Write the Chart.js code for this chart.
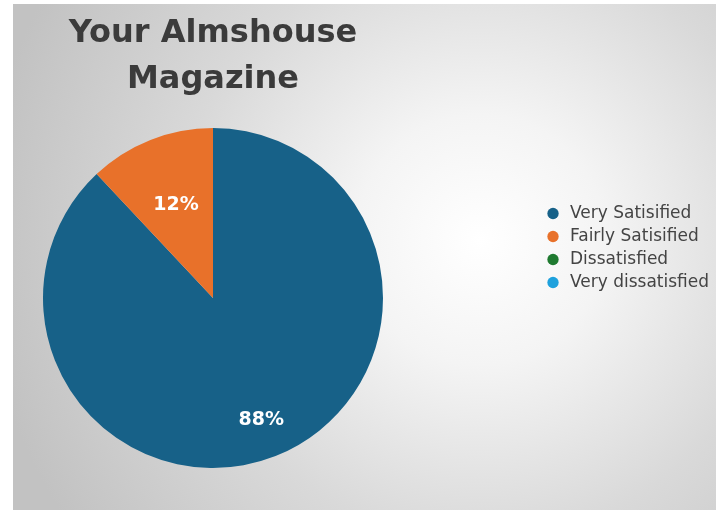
<!DOCTYPE html>
<html lang="en">
<head>
    <meta charset="UTF-8">
    <meta name="viewport" content="width=device-width, initial-scale=1.0">
    <title>Your Almshouse Magazine</title>
    <style>
        html, body {
            margin: 0;
            padding: 0;
            background-color: #ffffff;
        }
        #chart-container {
            width: 723px;
            height: 510px;
        }
    </style>
</head>
<body>
    <div id="chart-container">
        <canvas id="survey-chart" width="723" height="510"></canvas>
    </div>

    <script src="https://cdn.jsdelivr.net/npm/chart.js"></script>
    <script>
        // Survey results (percent of readers)
        const categories = ['Very Satisified', 'Fairly Satisified', 'Dissatisfied', 'Very dissatisfied'];
        const responses = [88, 12, 0, 0];
        const sliceColors = ['#176188', '#e8712a', '#1f7a30', '#1ea1dd'];
        const chartTitle = ['Your Almshouse', 'Magazine'];

        // Grey panel with a soft light spot behind the pie and legend
        const panelBackground = {
            id: 'panelBackground',
            beforeDraw(chart) {
                const ctx = chart.ctx;
                ctx.save();
                const grad = ctx.createRadialGradient(480, 240, 0, 480, 240, 500);
                grad.addColorStop(0, '#ffffff');
                grad.addColorStop(0.25, '#f4f4f4');
                grad.addColorStop(0.6, '#d9d9d9');
                grad.addColorStop(1, '#c2c2c2');
                ctx.fillStyle = grad;
                ctx.fillRect(13, 4, 703, 506);
                ctx.restore();
            }
        };

        // Move the legend block off to the right of the pie
        const legendPlacement = {
            id: 'legendPlacement',
            afterLayout(chart, args, opts) {
                const legend = chart.legend;
                legend.left = opts.left;
                legend.right = chart.width;
                legend.top = opts.top;
                legend.bottom = opts.top + 110;
            }
        };

        // Percentage text on each slice
        const sliceLabels = {
            id: 'sliceLabels',
            afterDatasetsDraw(chart, args, opts) {
                const ctx = chart.ctx;
                const meta = chart.getDatasetMeta(0);
                const values = chart.data.datasets[0].data;
                ctx.save();
                ctx.font = opts.font;
                ctx.fillStyle = opts.color;
                ctx.textAlign = 'center';
                ctx.textBaseline = 'middle';
                meta.data.forEach((arc, i) => {
                    if (!values[i]) return;
                    const p = arc.getProps(['x', 'y', 'startAngle', 'endAngle', 'outerRadius'], true);
                    const mid = (p.startAngle + p.endAngle) / 2;
                    const r = p.outerRadius * opts.radius[i];
                    ctx.fillText(values[i] + '%', p.x + Math.cos(mid) * r, p.y + Math.sin(mid) * r);
                });
                ctx.restore();
            }
        };

        const ctx = document.getElementById('survey-chart').getContext('2d');
        const surveyChart = new Chart(ctx, {
            type: 'pie',
            data: {
                labels: categories,
                datasets: [{
                    data: responses,
                    backgroundColor: sliceColors,
                    borderWidth: 0
                }]
            },
            options: {
                responsive: false,
                animation: false,
                events: [],
                layout: {
                    padding: { left: 43, right: 240, top: 0, bottom: 42 }
                },
                plugins: {
                    title: {
                        display: true,
                        text: chartTitle,
                        fullSize: false,
                        color: '#3b3b3b',
                        font: { family: 'DejaVu Sans', size: 32, weight: 'bold', lineHeight: '46px' },
                        padding: { top: 11, bottom: 25 }
                    },
                    legend: {
                        position: 'right',
                        align: 'start',
                        maxWidth: 100,
                        labels: {
                            usePointStyle: true,
                            pointStyle: 'circle',
                            boxWidth: 17,
                            boxHeight: 8,
                            padding: 6,
                            color: '#444444',
                            font: { family: 'DejaVu Sans', size: 17 }
                        }
                    },
                    tooltip: { enabled: false },
                    legendPlacement: { left: 538.5, top: 199 },
                    sliceLabels: {
                        font: 'bold 19px "DejaVu Sans"',
                        color: '#ffffff',
                        radius: [0.77, 0.59, 0.6, 0.6]
                    }
                }
            },
            plugins: [panelBackground, legendPlacement, sliceLabels]
        });
    </script>
</body>
</html>
